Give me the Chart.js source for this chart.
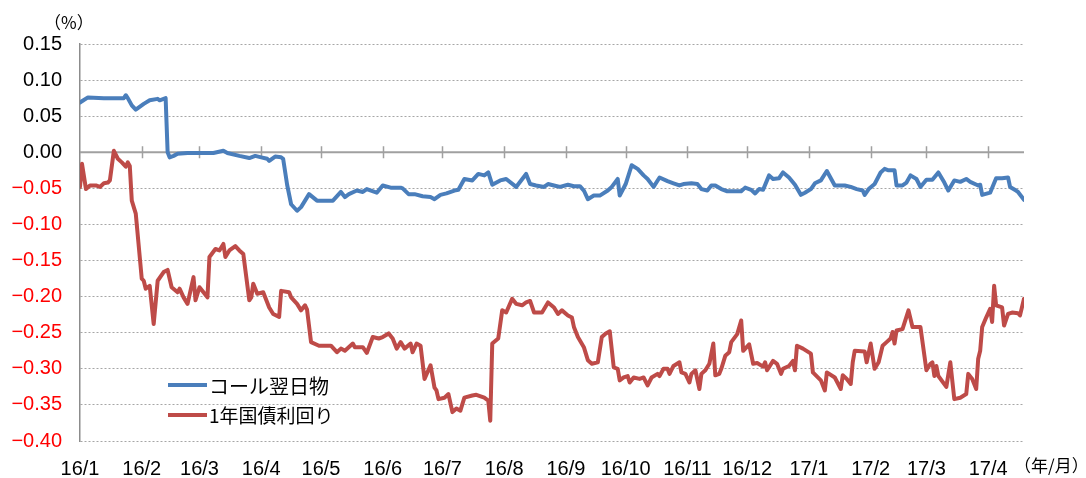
<!DOCTYPE html>
<html>
<head>
<meta charset="utf-8">
<script src="https://cdn.jsdelivr.net/npm/chart.js@4"></script>
<style>
  body { margin: 0; background: #fff; }
  canvas { display: block; }
</style>
</head>
<body>
<canvas id="chart" width="1086" height="478"></canvas>
<script>
// x values are days counted from 2016/1/1
const monthStarts = [0, 31, 60, 91, 121, 152, 182, 213, 244, 274, 305, 335, 366, 397, 425, 456];
const monthLabels = ['16/1', '16/2', '16/3', '16/4', '16/5', '16/6', '16/7', '16/8', '16/9', '16/10', '16/11', '16/12', '17/1', '17/2', '17/3', '17/4'];
const seriesNames = ['コール翌日物', '1年国債利回り'];

const callDay = [0, 4, 12, 17, 22, 23, 24, 26, 28, 32, 35, 39, 40, 43, 44, 45, 47, 49, 54, 60, 67, 72, 74, 80, 85, 88, 91, 94, 95, 98, 101, 102, 104, 106, 109, 111, 115, 119, 123, 127, 131, 133, 135, 139, 142, 144, 149, 152, 156, 161, 162, 165, 168, 172, 176, 178, 181, 184, 188, 190, 193, 197, 200, 203, 205, 207, 211, 214, 219, 224, 226, 229, 233, 235, 238, 241, 245, 248, 251, 253, 255, 258, 261, 265, 267, 270, 271, 274, 277, 280, 283, 285, 288, 291, 295, 298, 301, 303, 307, 310, 312, 315, 317, 319, 322, 325, 332, 334, 337, 339, 341, 343, 346, 348, 351, 353, 356, 359, 362, 364, 367, 369, 372, 375, 379, 384, 387, 390, 393, 394, 396, 399, 402, 404, 406, 409, 410, 413, 415, 417, 420, 422, 425, 428, 431, 434, 436, 439, 442, 445, 447, 451, 452, 453, 457, 460, 463, 466, 467, 470, 471, 474];
const callRate = [0.069, 0.076, 0.075, 0.075, 0.075, 0.079, 0.075, 0.065, 0.059, 0.067, 0.072, 0.074, 0.072, 0.075, 0.000, -0.007, -0.005, -0.002, -0.001, -0.001, -0.001, 0.002, -0.001, -0.005, -0.008, -0.005, -0.007, -0.009, -0.012, -0.006, -0.007, -0.009, -0.045, -0.072, -0.081, -0.076, -0.058, -0.067, -0.067, -0.067, -0.055, -0.062, -0.058, -0.053, -0.055, -0.051, -0.056, -0.046, -0.049, -0.049, -0.050, -0.058, -0.058, -0.061, -0.062, -0.065, -0.059, -0.057, -0.053, -0.052, -0.037, -0.039, -0.030, -0.032, -0.028, -0.045, -0.039, -0.037, -0.048, -0.030, -0.044, -0.046, -0.048, -0.044, -0.046, -0.048, -0.045, -0.047, -0.047, -0.053, -0.065, -0.060, -0.060, -0.053, -0.048, -0.037, -0.060, -0.044, -0.018, -0.023, -0.032, -0.037, -0.048, -0.035, -0.040, -0.043, -0.046, -0.044, -0.043, -0.044, -0.051, -0.053, -0.046, -0.046, -0.051, -0.054, -0.054, -0.049, -0.052, -0.057, -0.051, -0.052, -0.032, -0.037, -0.036, -0.028, -0.035, -0.045, -0.059, -0.056, -0.051, -0.043, -0.039, -0.026, -0.046, -0.046, -0.048, -0.051, -0.053, -0.059, -0.051, -0.044, -0.028, -0.023, -0.025, -0.025, -0.046, -0.046, -0.042, -0.032, -0.037, -0.048, -0.038, -0.038, -0.028, -0.042, -0.053, -0.039, -0.041, -0.037, -0.041, -0.046, -0.045, -0.059, -0.056, -0.036, -0.036, -0.035, -0.048, -0.053, -0.055, -0.066];

const jgbDay = [0, 1, 3, 5, 8, 10, 12, 14, 15, 17, 19, 21, 23, 24, 25, 26, 28, 31, 32, 33, 35, 37, 39, 42, 44, 46, 49, 50, 52, 54, 57, 58, 60, 62, 64, 65, 68, 70, 72, 73, 75, 78, 80, 82, 85, 86, 87, 89, 92, 95, 97, 100, 101, 105, 106, 109, 111, 113, 114, 116, 120, 126, 129, 131, 133, 137, 138, 142, 144, 147, 150, 152, 155, 157, 159, 161, 163, 166, 167, 169, 171, 173, 176, 178, 179, 180, 183, 185, 187, 189, 191, 193, 197, 199, 203, 205, 206, 207, 210, 212, 214, 217, 219, 222, 224, 226, 228, 232, 235, 238, 240, 242, 245, 247, 248, 250, 253, 255, 257, 260, 262, 264, 266, 268, 270, 271, 273, 275, 276, 278, 281, 283, 285, 287, 290, 291, 293, 295, 296, 298, 301, 302, 304, 306, 307, 309, 311, 312, 314, 316, 318, 319, 321, 322, 324, 326, 327, 330, 332, 333, 336, 338, 340, 343, 344, 345, 348, 350, 352, 353, 356, 358, 359, 360, 363, 367, 368, 372, 374, 375, 379, 382, 383, 385, 387, 388, 389, 394, 395, 397, 399, 401, 403, 405, 407, 408, 409, 410, 413, 416, 418, 422, 425, 427, 428, 429, 430, 431, 435, 437, 439, 442, 445, 446, 448, 450, 451, 452, 453, 455, 457, 458, 459, 460, 463, 464, 466, 468, 471, 472, 474];
const jgbYield = [-0.048, -0.016, -0.051, -0.046, -0.046, -0.048, -0.043, -0.042, -0.039, 0.002, -0.009, -0.014, -0.020, -0.014, -0.019, -0.067, -0.085, -0.175, -0.178, -0.189, -0.185, -0.238, -0.178, -0.166, -0.163, -0.187, -0.194, -0.189, -0.201, -0.210, -0.173, -0.205, -0.187, -0.194, -0.201, -0.145, -0.134, -0.136, -0.127, -0.145, -0.136, -0.130, -0.136, -0.141, -0.205, -0.201, -0.182, -0.196, -0.194, -0.215, -0.224, -0.228, -0.192, -0.194, -0.201, -0.210, -0.219, -0.212, -0.218, -0.263, -0.268, -0.268, -0.277, -0.272, -0.275, -0.265, -0.270, -0.270, -0.278, -0.256, -0.258, -0.256, -0.251, -0.258, -0.272, -0.263, -0.272, -0.265, -0.277, -0.265, -0.268, -0.314, -0.295, -0.326, -0.330, -0.342, -0.340, -0.335, -0.360, -0.355, -0.358, -0.340, -0.337, -0.336, -0.340, -0.344, -0.372, -0.265, -0.258, -0.219, -0.222, -0.203, -0.210, -0.212, -0.208, -0.206, -0.222, -0.222, -0.208, -0.215, -0.224, -0.219, -0.226, -0.229, -0.242, -0.256, -0.270, -0.288, -0.293, -0.291, -0.256, -0.251, -0.248, -0.298, -0.300, -0.316, -0.312, -0.310, -0.319, -0.312, -0.314, -0.312, -0.323, -0.312, -0.307, -0.310, -0.300, -0.300, -0.307, -0.296, -0.291, -0.305, -0.307, -0.319, -0.307, -0.302, -0.328, -0.307, -0.302, -0.293, -0.265, -0.309, -0.307, -0.300, -0.282, -0.277, -0.263, -0.252, -0.233, -0.275, -0.266, -0.293, -0.292, -0.297, -0.291, -0.302, -0.289, -0.293, -0.307, -0.300, -0.296, -0.289, -0.302, -0.268, -0.272, -0.279, -0.305, -0.316, -0.330, -0.305, -0.312, -0.328, -0.309, -0.314, -0.321, -0.291, -0.275, -0.276, -0.291, -0.265, -0.300, -0.291, -0.268, -0.263, -0.258, -0.249, -0.265, -0.247, -0.245, -0.219, -0.242, -0.242, -0.302, -0.293, -0.291, -0.310, -0.296, -0.310, -0.325, -0.291, -0.342, -0.340, -0.335, -0.307, -0.314, -0.328, -0.286, -0.275, -0.242, -0.229, -0.217, -0.235, -0.185, -0.212, -0.215, -0.240, -0.224, -0.222, -0.223, -0.226, -0.203];

const BLUE = '#4A7EBB';
const RED = '#BE4B48';
const LATIN = '"Liberation Sans", Arial, sans-serif';
const CJK = '"Noto Sans CJK JP", sans-serif';

// zero line with month ticks, legend and unit labels
const decorations = {
    id: 'decorations',
    beforeDatasetsDraw(chart) {
        const { ctx, chartArea, scales: { x, y } } = chart;
        const y0 = y.getPixelForValue(0);
        ctx.save();
        ctx.strokeStyle = '#A0A0A0';
        ctx.lineWidth = 2;
        ctx.beginPath();
        ctx.moveTo(chartArea.left, y0);
        ctx.lineTo(chartArea.right, y0);
        ctx.stroke();
        ctx.lineWidth = 1.5;
        ctx.beginPath();
        monthStarts.slice(1).forEach(d => {
            const px = Math.round(x.getPixelForValue(d)) + 0.5;
            ctx.moveTo(px, y0 - 6);
            ctx.lineTo(px, y0 + 6);
        });
        ctx.stroke();
        ctx.restore();
    },
    afterDraw(chart) {
        const { ctx } = chart;
        ctx.save();
        ctx.textBaseline = 'middle';
        ctx.fillStyle = '#000';
        ctx.font = '17px ' + CJK;
        ctx.textAlign = 'left';
        ctx.fillText('（%）', 44, 23);
        ctx.fillText('（年/月）', 1014, 466);

        // legend
        [BLUE, RED].forEach((c, i) => {
            const ly = 385 + i * 30;
            ctx.strokeStyle = c;
            ctx.lineWidth = 4;
            ctx.beginPath();
            ctx.moveTo(168, ly);
            ctx.lineTo(207, ly);
            ctx.stroke();
            ctx.fillStyle = '#000';
            ctx.font = (i === 0 ? '20px ' : '19px ') + CJK;
            ctx.fillText(seriesNames[i], 209, ly + 1);
        });
        ctx.restore();
    }
};

document.addEventListener('DOMContentLoaded', () => {
    const ctx = document.getElementById('chart').getContext('2d');
    new Chart(ctx, {
        type: 'line',
        data: {
            datasets: [{
                label: seriesNames[0],
                data: callDay.map((d, i) => ({ x: d, y: callRate[i] })),
                borderColor: BLUE,
                borderWidth: 4,
                pointRadius: 0,
                tension: 0
            }, {
                label: seriesNames[1],
                data: jgbDay.map((d, i) => ({ x: d, y: jgbYield[i] })),
                borderColor: RED,
                borderWidth: 4,
                pointRadius: 0,
                tension: 0
            }]
        },
        options: {
            responsive: false,
            animation: false,
            devicePixelRatio: 1,
            layout: { padding: { top: 44, right: 62, left: 0, bottom: 0 } },
            plugins: {
                legend: { display: false },
                tooltip: { enabled: false }
            },
            elements: { line: { borderJoinStyle: 'round', borderCapStyle: 'round' } },
            scales: {
                x: {
                    type: 'linear',
                    min: 0,
                    max: 474,
                    grid: { display: false },
                    border: { display: false },
                    afterBuildTicks: s => { s.ticks = monthStarts.map(v => ({ value: v })); },
                    afterFit: s => { s.height = 37; },
                    ticks: {
                        autoSkip: false,
                        maxRotation: 0,
                        padding: 8,
                        color: '#000',
                        font: { family: LATIN, size: 20 },
                        callback: (v, i) => monthLabels[i]
                    }
                },
                y: {
                    min: -0.4,
                    max: 0.15,
                    afterFit: s => { s.width = 80; },
                    grid: { color: '#A6A6A6', lineWidth: 1, drawTicks: false },
                    border: { display: true, color: '#8C8C8C', width: 1.5, dash: [2, 2] },
                    ticks: {
                        stepSize: 0.05,
                        padding: 18,
                        font: { family: LATIN, size: 20 },
                        color: c => (c.tick && c.tick.value < -1e-9 ? '#FF0000' : '#000'),
                        callback: v => (v < -1e-9 ? '−' + Math.abs(v).toFixed(2) : Math.abs(v).toFixed(2))
                    }
                }
            }
        },
        plugins: [decorations]
    });
});
</script>
</body>
</html>
